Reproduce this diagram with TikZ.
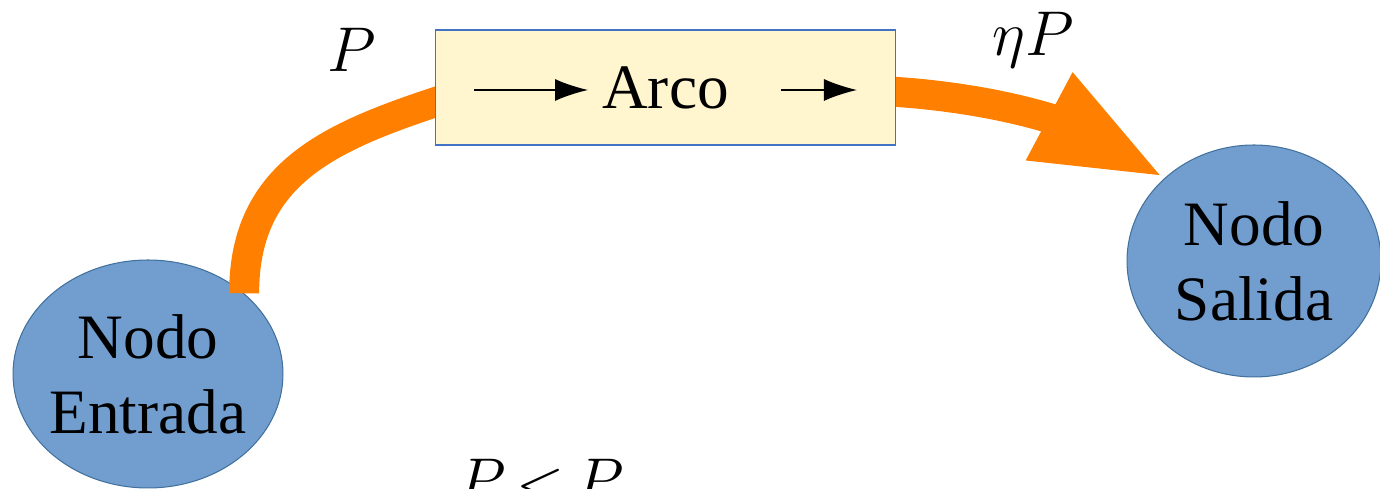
\RequirePackage{fix-cm}
\documentclass[tikz,border=0pt]{standalone}
\usepackage{amsmath}
\usepackage{fontspec}
\setmainfont{Liberation Serif}
\usetikzlibrary{arrows.meta,shapes.geometric,positioning,backgrounds}
\definecolor{naranja}{RGB}{255,128,0}
\definecolor{azulnodo}{RGB}{114,158,207}
\definecolor{bordenodo}{RGB}{65,113,156}
\definecolor{amarillo}{RGB}{255,245,206}
\definecolor{bordecaja}{RGB}{68,114,196}

\begin{document}
\begin{tikzpicture}[x=0.02cm,y=0.02cm,
    texto/.style={inner sep=0pt, align=center, font=\fontsize{36}{42.7}\selectfont},
    nodo/.style={ellipse, draw=bordenodo, line width=0.6pt, fill=azulnodo, inner sep=0pt},
    caja/.style={rectangle, draw=bordecaja, line width=0.6pt, fill=amarillo, minimum width=9.22cm, minimum height=2.3cm, texto},
    flujo/.style={naranja, line width=0.6cm},
    flechita/.style={-{Latex[length=0.66cm,width=0.44cm]}, line width=0.8pt}]
  \useasboundingbox (0,0) rectangle (1380,489);
  \clip (0,0) rectangle (1380,489);
  % arco y nodo de salida
  \node[caja] (arco) at (665.5,401.5) {Arco};
  \draw[flechita] ([xshift=-3.83cm,yshift=-0.05cm]arco.center) -- ([xshift=-1.55cm,yshift=-0.05cm]arco.center);
  \draw[flechita] ([xshift=2.31cm,yshift=-0.05cm]arco.center) -- ([xshift=3.83cm,yshift=-0.05cm]arco.center);
  \node[nodo, minimum width=5.08cm, minimum height=4.64cm, label={[texto]center:Nodo\\Salida}] (salida) at (1254,228) {};
  \begin{pgfonlayer}{background}
    \node[nodo, minimum width=5.4cm, minimum height=4.56cm, label={[texto]center:Nodo\\Entrada}] (entrada) at (148,115) {};
    % flujos de potencia
    \draw[flujo] (entrada.40.5) to[out=90,in=198,looseness=1.1] ([xshift=0.3cm,yshift=-0.2cm]arco.west);
    \draw[flujo,-{Triangle[length=2.62cm,width=1.8cm]}] ([xshift=-0.3cm,yshift=-0.07cm]arco.east) to[out=-3,in=152] (salida.137);
  \end{pgfonlayer}
  % etiquetas
  \node[texto] (pin) at (352,439) {$P$};
  \node[texto] (pout) at (1033,449) {$\eta P$};
  \node[texto, anchor=base] (cond) at (541,-14) {$P\mkern3mu{<}\mkern3mu P$};
\end{tikzpicture}
\end{document}
